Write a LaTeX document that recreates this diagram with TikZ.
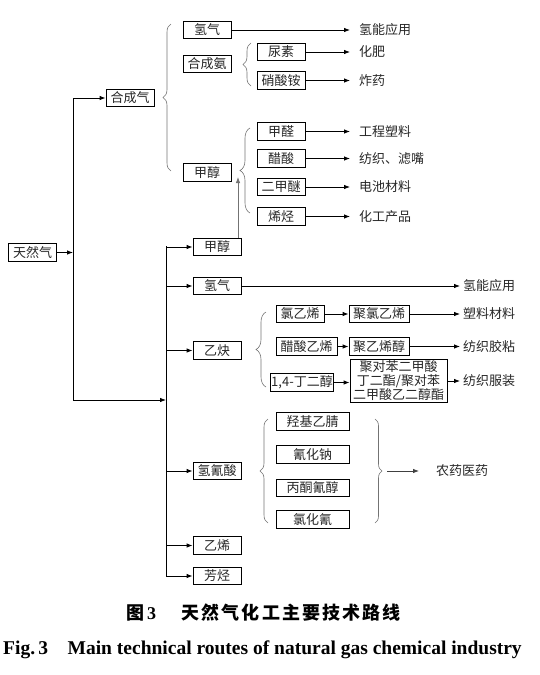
\documentclass[tikz,border=0pt]{standalone}
\usepackage{fontspec}
\setmainfont{Liberation Serif}
\newfontfamily\cjk{Noto Sans CJK SC}
\newfontfamily\cjkcap{Noto Sans CJK SC}[LetterSpace=12]
\usepackage{tikz}
\usetikzlibrary{arrows.meta, positioning, decorations.pathreplacing}

\begin{document}
\begin{tikzpicture}[
        x=1pt, y=-1pt,
        box/.style={draw, line width=0.8pt, text=black!85, font=\cjk\fontsize{13}{14}\selectfont,
            minimum width=48pt, minimum height=17.5pt, inner xsep=3pt, inner ysep=1pt},
        dest/.style={anchor=west, text=black!85, font=\cjk\fontsize{13}{14}\selectfont, inner ysep=0pt, inner xsep=3pt},
        arr/.style={line width=0.8pt, -{Latex[length=6pt, width=4.5pt]}},
        trunk/.style={line width=0.8pt},
        garr/.style={line width=0.8pt, black!55, -{Latex[length=6pt, width=4.5pt]}},
        curly/.style={black!55, line width=0.6pt, decorate, decoration={brace, amplitude=#1}},
        curly/.default=8pt
    ]
        \useasboundingbox (0,0) rectangle (540,675);

        % Natural gas and trunk lines
        \node[box] (trq) at (32.5,252.5) {天然气};
        \coordinate (b1) at (73,98);
        \coordinate (b2) at (73,400);
        \coordinate (t1) at (166,246);
        \coordinate (t2) at (166,576);
        \draw[arr] (trq.east) -- (trq.east -| b1);
        \draw[trunk] (b1) -- (b2);
        \draw[trunk] (t1) -- (t2);
        \draw[arr] (b2) -- (b2 -| t1);

        % Syngas
        \node[box] (hcq) at (130,98) {合成气};
        \draw[arr] (b1) -- (hcq.west);
        \draw[curly] (171,171) -- (171,24);
        \node[box] (qq1) at (207,30) {氢气};
        \node[box] (hca) at (207,64) {合成氨};
        \node[box] (jc1) at (207,172.5) {甲醇};

        \node[dest, inner xsep=9pt] (qn1) at (350,30) {氢能应用};
        \draw[arr] (qq1) -- (qn1);

        % Ammonia
        \draw[curly] (251,86) -- (251,43);
        \node[box] (ns) at (281,52) {尿素};
        \node[box] (xsa) at (281,80.5) {硝酸铵};
        \node[dest, inner xsep=9pt] (hf) at (350,52) {化肥};
        \node[dest, inner xsep=9pt] (zy) at (350,80.5) {炸药};
        \draw[arr] (ns) -- (hf);
        \draw[arr] (xsa) -- (zy);

        % Methanol
        \draw[curly=10pt] (250,213) -- (250,128);
        \node[box] (jq) at (281,131.5) {甲醛};
        \node[box] (cs) at (281,158.5) {醋酸};
        \node[box] (ejm) at (281,187) {二甲醚};
        \node[box] (xt) at (281,216.5) {烯烃};
        \node[dest, inner xsep=9pt] (gcsl) at (350,131.5) {工程塑料};
        \node[dest, inner xsep=9pt] (fz) at (350,158.5) {纺织、滤嘴};
        \node[dest, inner xsep=9pt] (dc) at (350,187) {电池材料};
        \node[dest, inner xsep=9pt] (hg) at (350,216.5) {化工产品};
        \draw[arr] (jq) -- (gcsl);
        \draw[arr] (cs) -- (fz);
        \draw[arr] (ejm) -- (dc);
        \draw[arr] (xt) -- (hg);

        % Direct routes
        \node[box] (jc2) at (217,247) {甲醇};
        \node[box] (qq2) at (217,286) {氢气};
        \node[box] (yq) at (217,350.5) {乙炔};
        \node[box] (hqs) at (217,471) {氢氰酸};
        \node[box] (yx) at (217,545.5) {乙烯};
        \node[box] (ft) at (217,576) {芳烃};
        \foreach \n in {jc2, qq2, yq, hqs, yx, ft}
            \draw[arr] (\n.west -| t1) -- (\n.west);
        \coordinate (jctip) at (238,177);
        \draw[garr] (jc2.north -| jctip) -- (jctip);

        \node[dest] (qn2) at (460,286) {氢能应用};
        \draw[arr] (qq2) -- (qn2);

        % Acetylene
        \draw[curly=10pt] (266,387) -- (266,312);
        \node[box] (lyx) at (300,314) {氯乙烯};
        \node[box, minimum width=60pt] (jlyx) at (379,314) {聚氯乙烯};
        \node[box, minimum width=61pt] (csyx) at (306.5,346.5) {醋酸乙烯};
        \node[box, minimum width=60pt] (jyxc) at (379,346.5) {聚乙烯醇};
        \node[box, inner xsep=1pt] (ddc) at (302,382.5) {1,4-丁二醇};
        \node[box, align=center, inner ysep=1.5pt] (pbt) at (398.5,381) {聚对苯二甲酸\\丁二酯/聚对苯\\二甲酸乙二醇酯};
        \node[dest] (slcl) at (460,314) {塑料材料};
        \node[dest] (fzjn) at (460,346.5) {纺织胶粘};
        \node[dest] (fzfz) at (460,381) {纺织服装};
        \draw[arr] (lyx) -- (jlyx);
        \draw[arr] (jlyx) -- (slcl);
        \draw[arr] (csyx) -- (jyxc);
        \draw[arr] (jyxc) -- (fzjn);
        \draw[arr] (ddc.east) -- (ddc.east -| pbt.west);
        \draw[arr] (pbt) -- (fzfz);

        % Hydrocyanic acid
        \draw[curly] (268,523) -- (268,419);
        \node[box, minimum width=73pt] (qjyj) at (312.5,421.5) {羟基乙腈};
        \node[box, minimum width=73pt] (qhn) at (312.5,454.5) {氰化钠};
        \node[box, minimum width=73pt] (btqc) at (312.5,488) {丙酮氰醇};
        \node[box, minimum width=73pt] (lhq) at (312.5,519.5) {氯化氰};
        \draw[curly=7pt] (375,419) -- (375,523);
        \coordinate (nyy0) at (387,471);
        \node[dest, inner xsep=17pt] (nyy) at (419,471) {农药医药};
        \draw[arr, black!75] (nyy0) -- (nyy);

        % Caption
        \node[anchor=west, inner sep=0pt, font=\cjkcap\bfseries\fontsize{18}{20}\selectfont] (capzh) at (126,613)
            {图\,{\rmfamily\bfseries 3}\hspace{1.4em}天然气化工主要技术路线};
        \node[anchor=west, inner sep=0pt, font=\bfseries\fontsize{19.5}{22}\selectfont] (capen) at (3,650)
            {Fig.\,3\hspace{1em}Main technical routes of natural gas chemical industry};
    \end{tikzpicture}
\end{document}
